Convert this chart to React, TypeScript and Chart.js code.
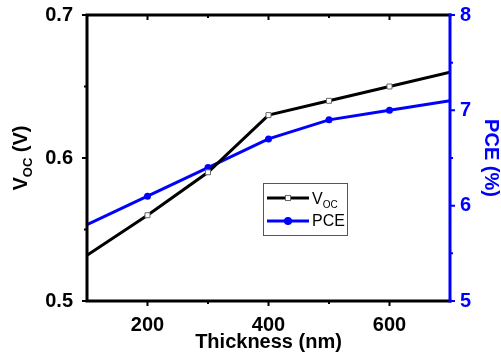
import React, { useEffect, useRef } from "react";
import { Chart, registerables } from "chart.js";
Chart.register(...registerables);

const thickness = [100, 200, 300, 400, 500, 600, 700];
const vocValues = [0.532, 0.56, 0.59, 0.63, 0.64, 0.65, 0.66];
const pceValues = [5.8, 6.1, 6.4, 6.7, 6.9, 7.0, 7.1];
const xTickLabels = [200, 400, 600];
const xMinorTicks = [300, 500];
const vocTickLabels = [0.5, 0.6, 0.7];
const vocMinorTicks = [0.55, 0.65];
const pceTickLabels = [5, 6, 7, 8];
const pceMinorTicks = [5.5, 6.5, 7.5];
const xTitle = "Thickness (nm)";
const pceTitle = "PCE (%)";
const vocLabelMain = "V";
const vocLabelSub = "OC";

const FONT = "Arial, 'Liberation Sans', sans-serif";
const BLUE = "#0000ff";

function drawSubLabel(ctx: CanvasRenderingContext2D, x: number, y: number, size: number, weight: string, color: string, tail: string) {
  ctx.fillStyle = color;
  ctx.textBaseline = "alphabetic";
  ctx.textAlign = "left";
  ctx.font = `${weight} ${size}px ${FONT}`;
  ctx.fillText(vocLabelMain, x, y);
  let cx = x + ctx.measureText(vocLabelMain).width;
  const subSize = Math.round(size * 0.65);
  ctx.font = `${weight} ${subSize}px ${FONT}`;
  ctx.fillText(vocLabelSub, cx, y + size * 0.25);
  cx += ctx.measureText(vocLabelSub).width;
  if (tail) {
    ctx.font = `${weight} ${size}px ${FONT}`;
    ctx.fillText(tail, cx, y);
  }
}

function subLabelWidth(ctx: CanvasRenderingContext2D, size: number, weight: string, tail: string) {
  ctx.font = `${weight} ${size}px ${FONT}`;
  let w = ctx.measureText(vocLabelMain).width + (tail ? ctx.measureText(tail).width : 0);
  ctx.font = `${weight} ${Math.round(size * 0.65)}px ${FONT}`;
  w += ctx.measureText(vocLabelSub).width;
  return w;
}

const framePlugin = {
  id: "frame",
  afterDraw(chart: any) {
    const ctx: CanvasRenderingContext2D = chart.ctx;
    const { left, right, top, bottom } = chart.chartArea;
    const x = chart.scales.x;
    const y = chart.scales.y;
    const y1 = chart.scales.y1;
    ctx.save();
    ctx.lineCap = "square";
    ctx.lineWidth = 3;
    ctx.strokeStyle = "#000";
    ctx.beginPath();
    ctx.moveTo(left, bottom);
    ctx.lineTo(left, top);
    ctx.lineTo(right, top);
    ctx.moveTo(left, bottom);
    ctx.lineTo(right, bottom);
    ctx.stroke();
    ctx.strokeStyle = BLUE;
    ctx.beginPath();
    ctx.moveTo(right, top);
    ctx.lineTo(right, bottom);
    ctx.stroke();

    ctx.lineCap = "butt";
    ctx.lineWidth = 2;
    ctx.strokeStyle = "#000";
    ctx.beginPath();
    xTickLabels.forEach((v) => {
      const px = x.getPixelForValue(v);
      ctx.moveTo(px, bottom);
      ctx.lineTo(px, bottom + 5);
      ctx.moveTo(px, top);
      ctx.lineTo(px, top + 5);
    });
    xMinorTicks.forEach((v) => {
      const px = x.getPixelForValue(v);
      ctx.moveTo(px, bottom);
      ctx.lineTo(px, bottom + 3);
      ctx.moveTo(px, top);
      ctx.lineTo(px, top + 3);
    });
    vocTickLabels.forEach((v) => {
      const py = y.getPixelForValue(v);
      ctx.moveTo(left, py);
      ctx.lineTo(left - 5, py);
    });
    vocMinorTicks.forEach((v) => {
      const py = y.getPixelForValue(v);
      ctx.moveTo(left, py);
      ctx.lineTo(left - 3, py);
    });
    ctx.stroke();
    ctx.strokeStyle = BLUE;
    ctx.beginPath();
    pceTickLabels.forEach((v) => {
      const py = y1.getPixelForValue(v);
      ctx.moveTo(right, py);
      ctx.lineTo(right + 5, py);
    });
    pceMinorTicks.forEach((v) => {
      const py = y1.getPixelForValue(v);
      ctx.moveTo(right, py);
      ctx.lineTo(right + 3, py);
    });
    ctx.stroke();

    ctx.fillStyle = "#000";
    ctx.font = `bold 20px ${FONT}`;
    ctx.textAlign = "center";
    ctx.textBaseline = "middle";
    ctx.fillText(xTitle, (left + right) / 2, 342);

    ctx.save();
    ctx.translate(491, (top + bottom) / 2);
    ctx.rotate(Math.PI / 2);
    ctx.fillStyle = BLUE;
    ctx.font = `bold 20px ${FONT}`;
    ctx.textAlign = "center";
    ctx.textBaseline = "middle";
    ctx.fillText(pceTitle, 0, 0);
    ctx.restore();

    ctx.save();
    ctx.translate(20, (top + bottom) / 2);
    ctx.rotate(-Math.PI / 2);
    const w = subLabelWidth(ctx, 20, "bold", " (V)");
    drawSubLabel(ctx, -w / 2, 7, 20, "bold", "#000", " (V)");
    ctx.restore();

    const bx = 263, by = 183, bw = 84, bh = 52;
    ctx.lineWidth = 1;
    ctx.strokeStyle = "#555";
    ctx.strokeRect(bx + 0.5, by + 0.5, bw, bh);
    const rows = [198, 221];
    chart.data.datasets.forEach((ds: any, i: number) => {
      const ry = rows[i];
      ctx.strokeStyle = ds.borderColor;
      ctx.lineWidth = 3;
      ctx.beginPath();
      ctx.moveTo(267, ry);
      ctx.lineTo(309, ry);
      ctx.stroke();
      if (ds.pointStyle === "rect") {
        ctx.fillStyle = "#fff";
        ctx.fillRect(285, ry - 3, 6, 6);
        ctx.strokeStyle = "#666";
        ctx.lineWidth = 1;
        ctx.strokeRect(285.5, ry - 2.5, 5, 5);
      } else {
        ctx.fillStyle = ds.pointBackgroundColor;
        ctx.beginPath();
        ctx.arc(288, ry, 4, 0, Math.PI * 2);
        ctx.fill();
      }
      if (i === 0) {
        drawSubLabel(ctx, 312, ry + 6, 16, "normal", "#000", "");
      } else {
        ctx.fillStyle = "#000";
        ctx.font = `16px ${FONT}`;
        ctx.textAlign = "left";
        ctx.textBaseline = "middle";
        ctx.fillText(ds.label, 312, ry + 1);
      }
    });
    ctx.restore();
  },
};

export default function App() {
  const ref = useRef<HTMLCanvasElement>(null);
  useEffect(() => {
    document.body.style.margin = "0";
    const canvas = ref.current!;
    const edge = (arr: number[], r: number) => arr.map((_, i) => (i === 0 || i === arr.length - 1 ? 0 : r));
    const chart = new Chart(canvas, {
      type: "line",
      data: {
        datasets: [
          {
            label: "VOC",
            data: thickness.map((t, i) => ({ x: t, y: vocValues[i] })),
            borderColor: "#000",
            borderWidth: 3,
            pointStyle: "rect",
            pointRadius: edge(thickness, 3.5),
            pointBackgroundColor: "#fff",
            pointBorderColor: "#666",
            pointBorderWidth: 1,
            yAxisID: "y",
            xAxisID: "x",
          },
          {
            label: "PCE",
            data: thickness.map((t, i) => ({ x: t, y: pceValues[i] })),
            borderColor: BLUE,
            borderWidth: 3,
            pointStyle: "circle",
            pointRadius: edge(thickness, 3.5),
            pointBackgroundColor: BLUE,
            pointBorderColor: BLUE,
            pointBorderWidth: 0,
            yAxisID: "y1",
            xAxisID: "x",
          },
        ],
      },
      options: {
        animation: false,
        responsive: false,
        devicePixelRatio: 1,
        layout: { padding: { top: 15, left: 0, right: 0, bottom: 0 } },
        plugins: { legend: { display: false }, tooltip: { enabled: false } },
        scales: {
          x: {
            type: "linear",
            min: 100,
            max: 700,
            grid: { display: false, drawTicks: false },
            border: { display: false },
            ticks: {
              stepSize: 100,
              padding: 12,
              color: "#000",
              font: { family: FONT, size: 20, weight: "bold" },
              callback: (v: any) => (xTickLabels.includes(Number(v)) ? String(v) : ""),
              maxRotation: 0,
              autoSkip: false,
            },
            afterFit: (s: any) => { s.height = 55; s.paddingLeft = 0; s.paddingRight = 0; },
          },
          y: {
            type: "linear",
            position: "left",
            min: 0.5,
            max: 0.7,
            grid: { display: false, drawTicks: false },
            border: { display: false },
            ticks: {
              stepSize: 0.1,
              padding: 14,
              color: "#000",
              font: { family: FONT, size: 20, weight: "bold" },
              callback: (v: any) => {
                const n = Number(v);
                return vocTickLabels.some((t) => Math.abs(t - n) < 1e-6) ? n.toFixed(1) : "";
              },
            },
            afterFit: (s: any) => { s.width = 87; s.paddingTop = 0; s.paddingBottom = 0; },
          },
          y1: {
            type: "linear",
            position: "right",
            min: 5,
            max: 8,
            grid: { display: false, drawTicks: false },
            border: { display: false },
            ticks: {
              stepSize: 1,
              padding: 10,
              color: BLUE,
              font: { family: FONT, size: 20, weight: "bold" },
              callback: (v: any) => (pceTickLabels.includes(Number(v)) ? String(v) : ""),
            },
            afterFit: (s: any) => { s.width = 51; s.paddingTop = 0; s.paddingBottom = 0; },
          },
        },
      },
      plugins: [framePlugin],
    } as any);
    return () => chart.destroy();
  }, []);
  return (
    <div style={{ position: "absolute", left: 0, top: 0, width: 501, height: 356, background: "#fff" }}>
      <canvas ref={ref} width={501} height={356} style={{ display: "block", width: 501, height: 356 }} />
    </div>
  );
}
